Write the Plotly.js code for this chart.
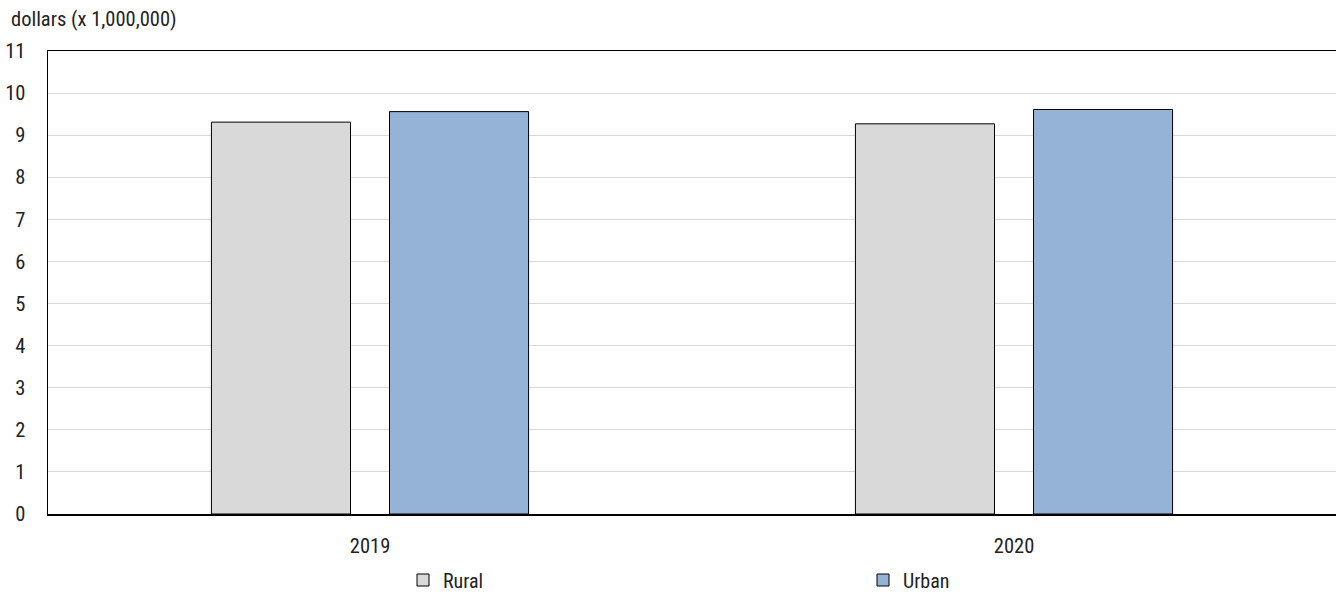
<!DOCTYPE html>
<html>
<head>
<meta charset="utf-8">
<script src="https://cdn.plot.ly/plotly-3.0.1.min.js"></script>
<style>
html,body{margin:0;padding:0;background:#fff;overflow:hidden;}
#chart{width:1336px;height:594px;}
</style>
</head>
<body>
<div id="chart"></div>
<script>
const categories = ["2019", "2020"];
const seriesNames = ["Rural", "Urban"];
const ruralValues = [9.31, 9.27];
const urbanValues = [9.56, 9.61];
const yTickValues = [0,1,2,3,4,5,6,7,8,9,10,11];
const unitLabel = "dollars (x 1,000,000)";

const FONT = '"Liberation Sans Narrow", "Roboto Condensed", "DejaVu Sans Condensed", "Arial Narrow", Roboto, sans-serif';
const FS = 20.5;

const traces = [
  {type:'bar', name:seriesNames[0], x:categories, y:ruralValues,
   marker:{color:'#d9d9d9', line:{color:'#000', width:1}}, hoverinfo:'none'},
  {type:'bar', name:seriesNames[1], x:categories, y:urbanValues,
   marker:{color:'#95b3d7', line:{color:'#000', width:1}}, hoverinfo:'none'}
];

const layout = {
  width:1336, height:594,
  margin:{l:48, r:0, t:51, b:80, pad:0, autoexpand:false},
  paper_bgcolor:'#fff', plot_bgcolor:'#fff',
  font:{family:FONT, size:FS, color:'#222'},
  barmode:'group', bargap:0.447, bargroupgap:0.219,
  title:{text:unitLabel, x:11/1336, xref:'container', xanchor:'left', y:1-19/594, yref:'container', yanchor:'middle',
         font:{family:FONT, size:FS, color:'#222'}},
  xaxis:{type:'category', showgrid:false, showline:true, linecolor:'#000', linewidth:1.5, mirror:true,
         ticks:'', ticklabelstandoff:13, tickfont:{family:FONT, size:FS, color:'#222'}, fixedrange:true},
  yaxis:{range:[0,11], tickvals:yTickValues, showgrid:true, gridcolor:'#d9d9d9', gridwidth:1,
         showline:true, linecolor:'#000', linewidth:1.5, zeroline:false,
         ticks:'', ticklabelstandoff:17, tickfont:{family:FONT, size:FS, color:'#222'}, fixedrange:true},
  showlegend:true,
  legend:{orientation:'h', x:(403-48)/1288, xanchor:'left', xref:'paper', y:14/594, yref:'container', yanchor:'middle',
          entrywidth:415, entrywidthmode:'pixels', font:{family:FONT, size:20, color:'#222'},
          bgcolor:'rgba(0,0,0,0)', traceorder:'normal'}
};

Plotly.newPlot('chart', traces, layout, {displayModeBar:false, staticPlot:true});
</script>
</body>
</html>
